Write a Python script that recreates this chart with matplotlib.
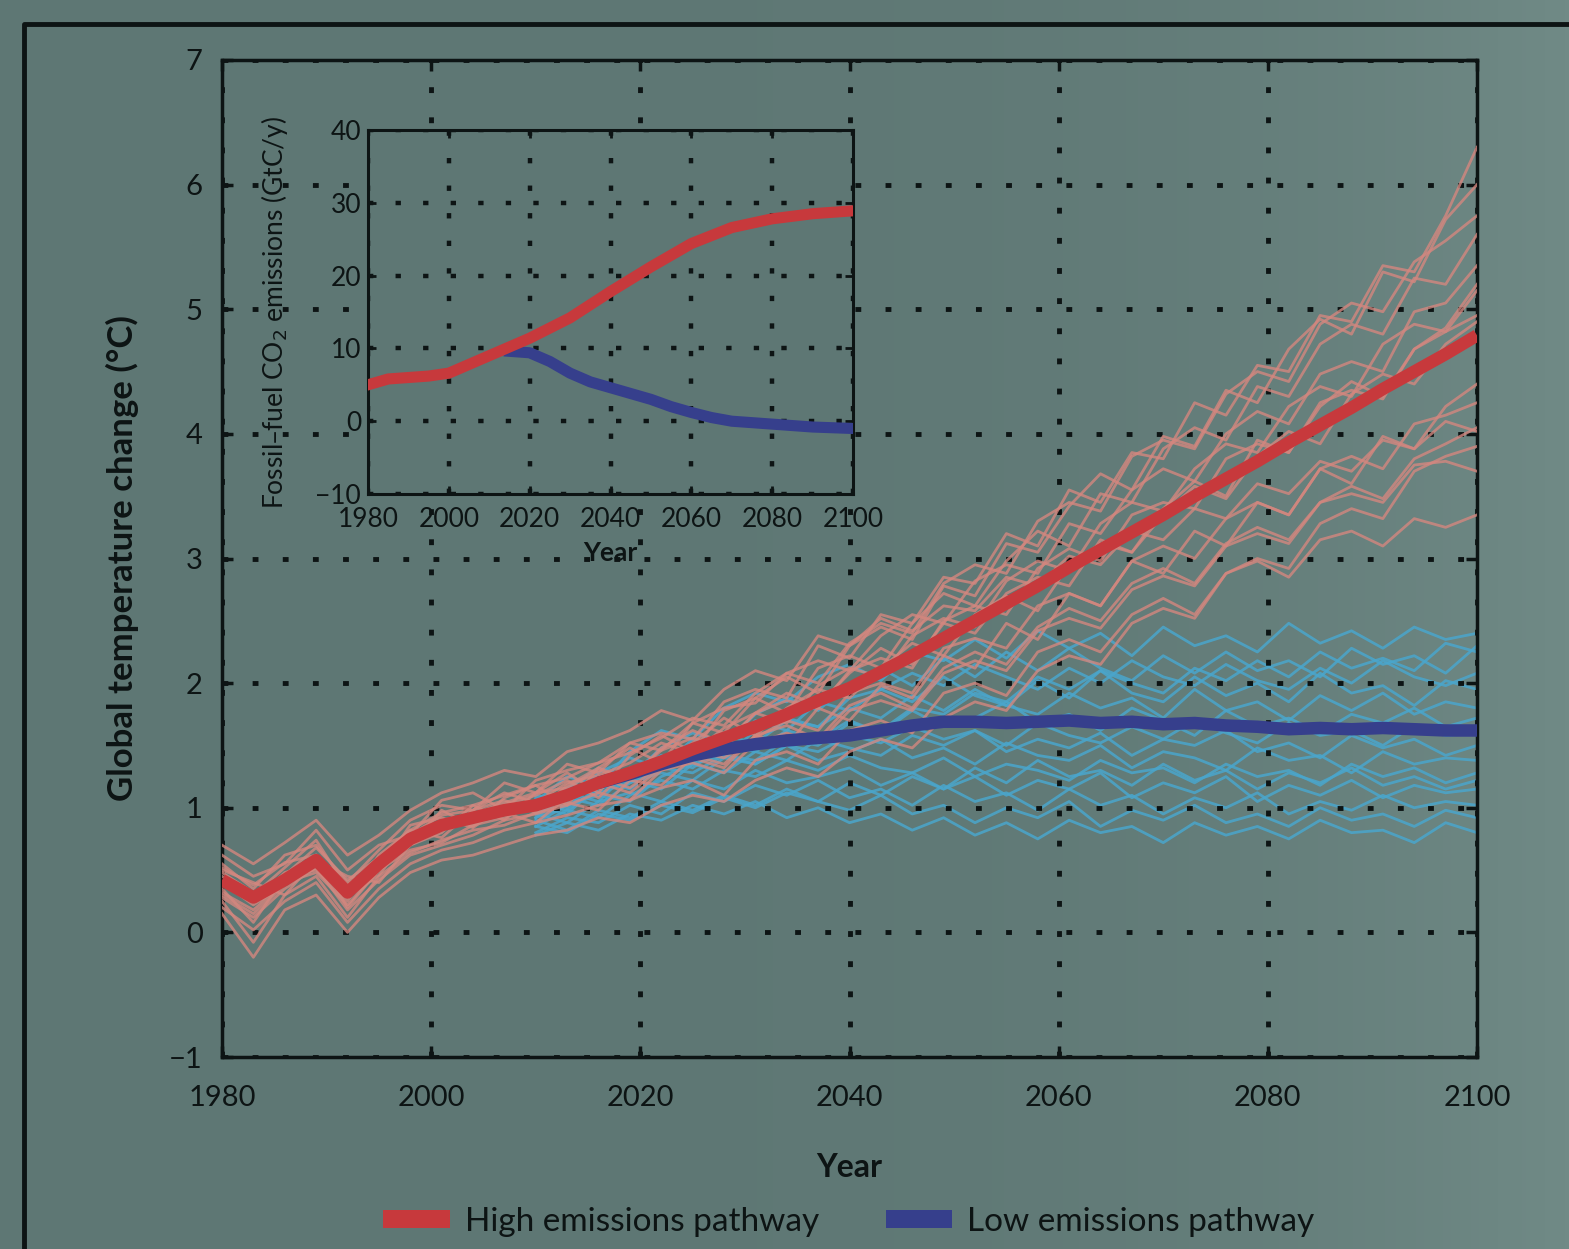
import matplotlib
matplotlib.use("Agg")
import matplotlib.pyplot as plt
import numpy as np
from matplotlib.patches import Patch
from matplotlib.lines import Line2D
from matplotlib.colors import LinearSegmentedColormap

plt.rcParams['font.family'] = ['Lato', 'DejaVu Sans']

# ---- main panel data (global temperature change, degC) ----
years_red = list(range(1980, 2101, 3))
red_mean = [0.42, 0.28, 0.42, 0.58, 0.32, 0.55, 0.75, 0.86, 0.92, 0.98, 1.02,
            1.10, 1.20, 1.28, 1.37, 1.47, 1.56, 1.65, 1.75, 1.86, 1.96, 2.09,
            2.22, 2.36, 2.50, 2.64, 2.78, 2.93, 3.07, 3.21, 3.35, 3.50, 3.64,
            3.78, 3.93, 4.07, 4.21, 4.36, 4.50, 4.64, 4.79]

red_members = [
    [.55, .35, .62, .70, .40, .66, .90, 1.02, .98, 1.20, 1.12, 1.35, 1.28, 1.52, 1.60, 1.55, 1.85, 1.95, 1.88, 2.30, 2.20, 2.55, 2.48, 2.85, 2.80, 3.20, 3.10, 3.55, 3.45, 3.85, 3.80, 4.25, 4.15, 4.55, 4.50, 4.95, 4.90, 5.35, 5.30, 5.75, 6.30],
    [.30, .15, .38, .62, .20, .50, .70, .98, .85, 1.08, 1.18, 1.02, 1.32, 1.48, 1.36, 1.68, 1.60, 1.88, 2.05, 1.92, 2.30, 2.45, 2.35, 2.78, 2.70, 3.12, 3.05, 3.42, 3.68, 3.55, 3.98, 3.90, 4.35, 4.25, 4.68, 4.92, 4.80, 5.30, 5.22, 5.72, 6.00],
    [.50, .40, .30, .58, .45, .40, .70, .80, 1.02, .90, 1.12, 1.28, 1.12, 1.42, 1.58, 1.45, 1.78, 1.88, 1.76, 2.12, 2.22, 2.12, 2.48, 2.72, 2.62, 2.98, 3.22, 3.10, 3.52, 3.45, 3.88, 4.05, 3.95, 4.38, 4.30, 4.72, 4.88, 4.80, 5.25, 5.20, 5.60],
    [.35, .08, .45, .50, .25, .62, .82, .76, .98, 1.06, .96, 1.18, 1.32, 1.22, 1.48, 1.62, 1.52, 1.76, 1.92, 1.82, 2.08, 2.28, 2.15, 2.48, 2.40, 2.72, 2.85, 2.78, 3.15, 3.05, 3.40, 3.62, 3.50, 3.95, 3.85, 4.22, 4.42, 4.30, 4.68, 4.85, 5.20],
    [.45, .30, .52, .74, .35, .50, .86, .92, .84, 1.02, 1.10, 1.22, 1.08, 1.32, 1.36, 1.52, 1.72, 1.58, 1.80, 1.95, 1.88, 2.12, 2.32, 2.22, 2.55, 2.70, 2.58, 2.95, 3.12, 3.05, 3.35, 3.58, 3.48, 3.82, 4.02, 3.92, 4.32, 4.48, 4.40, 4.72, 4.90],
    [.25, -.08, .30, .45, .12, .45, .64, .74, .82, .86, .96, 1.04, .98, 1.22, 1.18, 1.40, 1.32, 1.58, 1.50, 1.80, 1.70, 1.98, 1.88, 2.22, 2.12, 2.48, 2.35, 2.72, 2.62, 2.98, 2.88, 3.22, 3.10, 3.45, 3.35, 3.72, 3.60, 3.98, 3.88, 4.22, 4.40],
    [.62, .45, .55, .82, .50, .70, .78, 1.06, 1.12, .98, 1.22, 1.30, 1.36, 1.52, 1.46, 1.68, 1.80, 1.84, 2.08, 2.18, 2.10, 2.38, 2.55, 2.48, 2.82, 2.95, 2.88, 3.28, 3.20, 3.55, 3.72, 3.62, 4.00, 4.18, 4.08, 4.48, 4.58, 4.50, 4.98, 5.05, 5.35],
    [.40, .22, .38, .62, .30, .58, .70, .84, .90, .96, .88, 1.08, 1.20, 1.12, 1.32, 1.42, 1.35, 1.58, 1.66, 1.55, 1.82, 1.92, 1.80, 2.12, 2.25, 2.15, 2.45, 2.60, 2.50, 2.80, 2.92, 2.80, 3.12, 3.25, 3.15, 3.45, 3.58, 3.48, 3.80, 3.92, 4.05],
    [.38, .25, .48, .56, .28, .46, .78, .94, .98, 1.12, 1.04, 1.20, 1.26, 1.36, 1.52, 1.44, 1.64, 1.76, 1.68, 1.98, 2.12, 2.05, 2.38, 2.52, 2.45, 2.82, 2.98, 2.90, 3.28, 3.45, 3.38, 3.72, 3.92, 3.85, 4.22, 4.38, 4.30, 4.72, 4.88, 4.82, 5.15],
    [.20, .02, .25, .40, .08, .35, .55, .66, .72, .82, .88, .94, 1.02, 1.06, 1.16, 1.22, 1.10, 1.38, 1.45, 1.35, 1.62, 1.70, 1.60, 1.92, 2.00, 1.90, 2.25, 2.35, 2.25, 2.55, 2.68, 2.55, 2.88, 2.98, 2.85, 3.15, 3.22, 3.10, 3.32, 3.25, 3.35],
    [.48, .32, .46, .68, .42, .60, .82, .96, 1.02, 1.10, 1.18, 1.24, 1.36, 1.44, 1.56, 1.72, 1.66, 1.92, 2.08, 2.00, 2.32, 2.48, 2.40, 2.80, 2.95, 2.88, 3.30, 3.45, 3.38, 3.82, 3.95, 3.88, 4.32, 4.50, 4.42, 4.88, 5.05, 4.98, 5.38, 5.55, 5.75],
    [.32, .18, .40, .48, .22, .50, .66, .72, .86, .92, 1.02, 1.10, 1.24, 1.16, 1.34, 1.46, 1.40, 1.56, 1.70, 1.62, 1.92, 2.00, 1.92, 2.28, 2.36, 2.28, 2.62, 2.72, 2.62, 2.98, 3.10, 3.00, 3.32, 3.45, 3.35, 3.72, 3.82, 3.72, 4.08, 4.15, 4.25],
    [.52, .38, .56, .62, .38, .58, .72, .90, .95, 1.04, 1.12, 1.16, 1.30, 1.24, 1.46, 1.56, 1.50, 1.76, 1.86, 1.80, 2.10, 2.20, 2.12, 2.50, 2.62, 2.55, 2.92, 3.08, 2.98, 3.35, 3.45, 3.40, 3.80, 3.92, 3.85, 4.25, 4.35, 4.28, 4.68, 4.82, 4.95],
    [.28, .12, .35, .52, .18, .42, .62, .70, .78, .90, .95, 1.02, 1.12, 1.06, 1.30, 1.36, 1.28, 1.52, 1.60, 1.52, 1.78, 1.86, 1.78, 2.08, 2.18, 2.10, 2.42, 2.52, 2.44, 2.75, 2.86, 2.78, 3.10, 3.20, 3.12, 3.45, 3.52, 3.45, 3.75, 3.78, 3.70],
    [.70, .55, .72, .90, .62, .78, .98, 1.12, 1.20, 1.30, 1.25, 1.45, 1.52, 1.62, 1.78, 1.70, 1.95, 2.10, 2.02, 2.38, 2.30, 2.52, 2.42, 2.62, 2.58, 2.85, 2.78, 3.02, 2.95, 3.22, 3.15, 3.40, 3.32, 3.60, 3.52, 3.78, 3.70, 3.95, 3.88, 4.10, 4.02],
    [.15, -.20, .18, .30, .00, .28, .48, .58, .62, .70, .78, .82, .92, .88, 1.02, 1.10, 1.05, 1.22, 1.32, 1.25, 1.45, 1.55, 1.48, 1.72, 1.85, 1.78, 2.10, 2.22, 2.15, 2.48, 2.60, 2.52, 2.88, 3.00, 2.92, 3.28, 3.40, 3.32, 3.70, 3.82, 3.90],
]

years_blue = list(range(2010, 2101, 3))
blue_members = [
    [1.05, 1.25, 1.18, 1.45, 1.62, 1.55, 1.80, 1.92, 1.85, 2.05, 2.15, 2.02, 2.25, 2.18, 2.35, 2.20, 2.42, 2.28, 2.40, 2.22, 2.45, 2.30, 2.38, 2.25, 2.48, 2.32, 2.42, 2.28, 2.45, 2.35, 2.40],
    [.95, 1.15, 1.32, 1.25, 1.48, 1.60, 1.52, 1.75, 1.88, 1.78, 2.00, 2.12, 1.98, 2.20, 2.05, 2.25, 2.10, 2.28, 2.12, 2.02, 2.22, 2.08, 2.25, 2.10, 2.18, 2.05, 2.28, 2.15, 2.22, 2.08, 2.30],
    [1.10, 1.05, 1.28, 1.40, 1.32, 1.55, 1.48, 1.70, 1.62, 1.85, 1.78, 1.95, 1.85, 2.05, 1.90, 1.82, 2.02, 1.88, 2.10, 1.92, 1.85, 2.05, 1.90, 2.00, 1.85, 2.08, 1.92, 1.98, 1.82, 2.02, 1.95],
    [.92, 1.12, 1.05, 1.30, 1.42, 1.35, 1.58, 1.52, 1.70, 1.65, 1.80, 1.72, 1.90, 1.78, 1.95, 1.82, 1.75, 1.92, 1.80, 1.88, 1.72, 1.95, 1.78, 1.85, 1.70, 1.90, 1.78, 1.92, 1.75, 1.85, 1.80],
    [1.00, .95, 1.18, 1.25, 1.40, 1.32, 1.50, 1.45, 1.62, 1.55, 1.70, 1.60, 1.78, 1.65, 1.72, 1.85, 1.68, 1.75, 1.62, 1.80, 1.70, 1.58, 1.78, 1.65, 1.72, 1.60, 1.75, 1.68, 1.80, 1.65, 1.72],
    [.88, 1.02, 1.10, 1.05, 1.25, 1.35, 1.28, 1.45, 1.38, 1.55, 1.48, 1.42, 1.58, 1.50, 1.62, 1.45, 1.55, 1.48, 1.60, 1.42, 1.55, 1.50, 1.62, 1.45, 1.52, 1.40, 1.58, 1.48, 1.55, 1.42, 1.50],
    [1.08, 1.00, 1.22, 1.15, 1.32, 1.28, 1.42, 1.35, 1.50, 1.38, 1.45, 1.55, 1.40, 1.48, 1.35, 1.52, 1.42, 1.38, 1.50, 1.32, 1.45, 1.40, 1.30, 1.48, 1.38, 1.42, 1.28, 1.45, 1.35, 1.40, 1.38],
    [.85, .98, .92, 1.10, 1.22, 1.15, 1.30, 1.25, 1.38, 1.30, 1.42, 1.32, 1.28, 1.40, 1.25, 1.35, 1.30, 1.22, 1.38, 1.28, 1.32, 1.20, 1.35, 1.25, 1.30, 1.18, 1.35, 1.25, 1.32, 1.20, 1.28],
    [.95, .88, 1.05, 1.12, 1.05, 1.22, 1.15, 1.30, 1.20, 1.25, 1.32, 1.18, 1.28, 1.15, 1.25, 1.10, 1.22, 1.15, 1.28, 1.08, 1.20, 1.12, 1.25, 1.05, 1.18, 1.10, 1.22, 1.08, 1.18, 1.12, 1.15],
    [.80, .92, .88, 1.02, .95, 1.12, 1.05, 1.18, 1.10, 1.22, 1.08, 1.15, 1.02, 1.18, 1.05, 1.12, .98, 1.15, 1.02, 1.10, .95, 1.08, 1.00, 1.12, .95, 1.05, .98, 1.10, 1.00, 1.05, 1.02],
    [.90, .82, .98, .92, 1.05, .98, 1.10, 1.02, 1.15, 1.05, .98, 1.10, .95, 1.02, .88, 1.00, .92, 1.05, .85, .98, .90, 1.02, .88, .95, .85, 1.00, .90, .95, .85, .98, .92],
    [.78, .88, .82, .95, .90, 1.02, .95, 1.05, .92, 1.00, .88, .95, .82, .92, .78, .88, .75, .90, .80, .85, .72, .88, .78, .85, .75, .90, .80, .82, .72, .88, .80],
    [1.02, .98, 1.15, 1.22, 1.15, 1.35, 1.42, 1.38, 1.55, 1.50, 1.68, 1.62, 1.80, 1.75, 1.92, 1.85, 2.05, 1.95, 2.10, 2.00, 1.92, 2.12, 2.02, 2.18, 2.05, 2.25, 2.12, 2.20, 2.10, 2.32, 2.25],
    [.98, 1.08, 1.02, 1.20, 1.28, 1.22, 1.40, 1.35, 1.50, 1.45, 1.58, 1.52, 1.65, 1.55, 1.62, 1.50, 1.68, 1.58, 1.52, 1.65, 1.55, 1.70, 1.60, 1.52, 1.68, 1.58, 1.62, 1.50, 1.66, 1.58, 1.60],
    [.92, 1.02, 1.12, 1.20, 1.32, 1.45, 1.40, 1.62, 1.72, 1.65, 1.88, 1.95, 2.08, 1.98, 2.15, 2.05, 1.95, 2.12, 2.00, 2.18, 2.05, 1.98, 2.15, 2.02, 1.95, 2.12, 2.00, 2.18, 2.05, 1.98, 2.08],
    [.85, .80, .95, .90, 1.02, .96, 1.08, 1.00, 1.12, 1.05, 1.20, 1.10, 1.25, 1.15, 1.32, 1.20, 1.38, 1.25, 1.30, 1.18, 1.35, 1.22, 1.30, 1.15, 1.28, 1.20, 1.32, 1.18, 1.25, 1.15, 1.22],
]

years_blue_mean = list(range(2016, 2101, 3))
blue_mean = [1.20, 1.27, 1.35, 1.42, 1.47, 1.51, 1.54, 1.56, 1.58, 1.62, 1.66,
             1.69, 1.69, 1.68, 1.69, 1.70, 1.68, 1.69, 1.67, 1.68, 1.66, 1.65,
             1.63, 1.64, 1.63, 1.64, 1.63, 1.62, 1.62]

# ---- inset data (fossil fuel CO2 emissions, GtC/y) ----
inset_red_years = [1980, 1985, 1990, 1995, 2000, 2005, 2010, 2015, 2020, 2030,
                   2040, 2050, 2060, 2070, 2080, 2090, 2100]
inset_red = [5.0, 5.8, 6.0, 6.2, 6.6, 7.8, 9.0, 10.2, 11.4, 14.2, 17.8, 21.2,
             24.4, 26.6, 27.8, 28.5, 28.9]
inset_blue_years = [2015, 2020, 2025, 2030, 2035, 2040, 2045, 2050, 2055, 2060,
                    2065, 2070, 2080, 2090, 2100]
inset_blue = [9.6, 9.4, 8.2, 6.6, 5.4, 4.6, 3.8, 3.0, 2.0, 1.2, 0.5, 0.0, -0.4,
              -0.8, -1.0]

bg = '#5e7774'
ink = '#0d1414'
red_thin = '#d4877f'
blue_thin = '#4aa6cc'
red_thick = '#c7393c'
blue_thick = '#363f8c'

fig = plt.figure(figsize=(15.69, 12.49), dpi=100, facecolor=bg)

# background shading, a bit lighter towards the right edge
bga = fig.add_axes([0, 0, 1, 1], zorder=-10)
bga.imshow(np.linspace(0, 1, 400)[None, :] ** 4, aspect='auto', extent=(0, 1, 0, 1),
           cmap=LinearSegmentedColormap.from_list('bgc', [bg, '#708a86']))
bga.axis('off')

# outer frame
fig.add_artist(Line2D([24 / 1569, 24 / 1569, 1.0], [0.0, 1 - 24 / 1249, 1 - 24 / 1249],
                      color=ink, linewidth=3.5, transform=fig.transFigure))

ax = fig.add_axes([222 / 1569, 1 - 1057 / 1249, 1255 / 1569, 997 / 1249])
ax.set_facecolor('none')

for m in blue_members:
    ax.plot(years_blue, m, color=blue_thin, linewidth=2.0, alpha=0.85, zorder=2)
for m in red_members:
    ax.plot(years_red, m, color=red_thin, linewidth=2.0, alpha=0.8, zorder=3)
ax.plot(years_blue_mean, blue_mean, color=blue_thick, linewidth=9, solid_capstyle='butt', zorder=4)
ax.plot(years_red, red_mean, color=red_thick, linewidth=9, solid_capstyle='butt', zorder=5)

ax.set_xlim(1980, 2100)
ax.set_ylim(-1, 7)
ax.set_xticks(range(1980, 2101, 20))
ax.set_yticks(range(-1, 8))
ax.grid(True, color=ink, linestyle=(0, (1.2, 5)), linewidth=3.5)
ax.set_axisbelow(False)
for s in ax.spines.values():
    s.set_linewidth(2.5)
    s.set_color(ink)
ax.tick_params(direction='in', length=8, width=2.5, color=ink, labelsize=21,
               labelcolor=ink, top=True, right=True)
ax.tick_params(axis='x', pad=20)
ax.tick_params(axis='y', pad=14)
ax.set_xlabel('Year', fontsize=23, fontweight='bold', color=ink)
ax.xaxis.set_label_coords(0.5, -0.096)
ax.set_ylabel('Global temperature change (°C)', fontsize=25, fontweight='bold', color=ink)
ax.yaxis.set_label_coords(-0.066, 0.5)

# inset (opaque, hides the main grid behind it)
ins = fig.add_axes([368 / 1569, 1 - 494 / 1249, 485 / 1569, 364 / 1249], zorder=5)
ins.set_facecolor(bg)
ins.plot(inset_red_years, inset_red, color=red_thick, linewidth=8, zorder=4)
ins.plot(inset_blue_years, inset_blue, color=blue_thick, linewidth=8, zorder=3)
ins.set_xlim(1980, 2100)
ins.set_ylim(-10, 40)
ins.set_xticks(range(1980, 2101, 20))
ins.set_yticks(range(-10, 41, 10))
ins.grid(True, color=ink, linestyle=(0, (1.2, 5)), linewidth=3.2)
for s in ins.spines.values():
    s.set_linewidth(2.2)
    s.set_color(ink)
ins.tick_params(direction='in', length=6, width=2, color=ink, labelsize=19,
                labelcolor=ink, top=True, right=True)
ins.tick_params(axis='x', pad=9)
ins.tick_params(axis='y', pad=5)
ins.set_xlabel('Year', fontsize=19, fontweight='bold', color=ink)
ins.xaxis.set_label_coords(0.5, -0.13)
ins.set_ylabel('Fossil–fuel CO$_2$ emissions (GtC/y)', fontsize=19, color=ink)
ins.yaxis.set_label_coords(-0.16, 0.5)

handles = [Patch(facecolor=red_thick, edgecolor='none', label='High emissions pathway'),
           Patch(facecolor=blue_thick, edgecolor='none', label='Low emissions pathway')]
fig.legend(handles=handles, loc='center', bbox_to_anchor=(0.541, 0.022), ncol=2,
           frameon=False, fontsize=24, handlelength=2.0, handleheight=0.45,
           handletextpad=0.45, columnspacing=2.0, labelcolor=ink)

fig.savefig('out.png', dpi=100, facecolor=bg)
